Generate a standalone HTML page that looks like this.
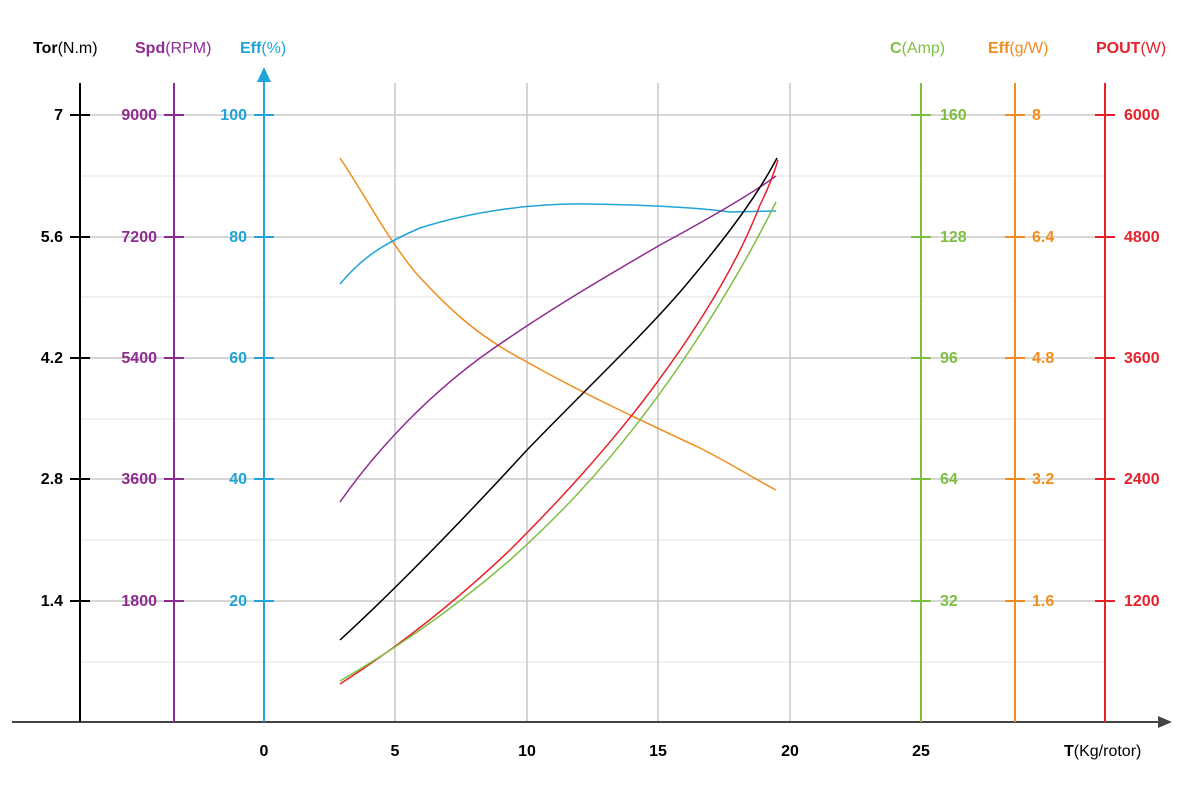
<!DOCTYPE html>
<html><head><meta charset="utf-8"><style>
body{margin:0;background:#fff;}
svg{display:block;font-family:"Liberation Sans",sans-serif;}
.t{font-size:16px;font-weight:bold;}
.h{font-size:16px;}
</style></head><body>
<svg width="1200" height="800" viewBox="0 0 1200 800">
<g stroke="#ececec" stroke-width="1.5">
<line x1="80" y1="176" x2="1105" y2="176"/><line x1="80" y1="297" x2="1105" y2="297"/>
<line x1="80" y1="419" x2="1105" y2="419"/><line x1="80" y1="540" x2="1105" y2="540"/>
<line x1="80" y1="662" x2="1105" y2="662"/>
</g>
<g stroke="#c8c8c8" stroke-width="1.5">
<line x1="80" y1="115" x2="1105" y2="115"/><line x1="80" y1="237" x2="1105" y2="237"/>
<line x1="80" y1="358" x2="1105" y2="358"/><line x1="80" y1="479" x2="1105" y2="479"/>
<line x1="80" y1="601" x2="1105" y2="601"/>
<line x1="395" y1="83" x2="395" y2="722"/><line x1="527" y1="83" x2="527" y2="722"/>
<line x1="658" y1="83" x2="658" y2="722"/><line x1="790" y1="83" x2="790" y2="722"/>
</g>
<line x1="12" y1="722" x2="1162" y2="722" stroke="#444" stroke-width="2"/>
<polygon points="1172,722 1158,716 1158,728" fill="#444"/>
<g stroke-width="2">
<line x1="80" y1="83" x2="80" y2="722" stroke="#000"/>
<line x1="174" y1="83" x2="174" y2="722" stroke="#8e2b91"/>
<line x1="264" y1="80" x2="264" y2="722" stroke="#1fa4d8"/>
<line x1="921" y1="83" x2="921" y2="722" stroke="#7dbf41"/>
<line x1="1015" y1="83" x2="1015" y2="722" stroke="#f28c1c"/>
<line x1="1105" y1="83" x2="1105" y2="722" stroke="#e8202a"/>
</g>
<polygon points="264,67 257,82 271,82" fill="#1fa4d8"/>
<g stroke-width="2">
<g stroke="#000"><line x1="70" y1="115" x2="90" y2="115"/><line x1="70" y1="237" x2="90" y2="237"/><line x1="70" y1="358" x2="90" y2="358"/><line x1="70" y1="479" x2="90" y2="479"/><line x1="70" y1="601" x2="90" y2="601"/></g>
<g stroke="#8e2b91"><line x1="164" y1="115" x2="184" y2="115"/><line x1="164" y1="237" x2="184" y2="237"/><line x1="164" y1="358" x2="184" y2="358"/><line x1="164" y1="479" x2="184" y2="479"/><line x1="164" y1="601" x2="184" y2="601"/></g>
<g stroke="#1fa4d8"><line x1="254" y1="115" x2="274" y2="115"/><line x1="254" y1="237" x2="274" y2="237"/><line x1="254" y1="358" x2="274" y2="358"/><line x1="254" y1="479" x2="274" y2="479"/><line x1="254" y1="601" x2="274" y2="601"/></g>
<g stroke="#7dbf41"><line x1="911" y1="115" x2="931" y2="115"/><line x1="911" y1="237" x2="931" y2="237"/><line x1="911" y1="358" x2="931" y2="358"/><line x1="911" y1="479" x2="931" y2="479"/><line x1="911" y1="601" x2="931" y2="601"/></g>
<g stroke="#f28c1c"><line x1="1005" y1="115" x2="1025" y2="115"/><line x1="1005" y1="237" x2="1025" y2="237"/><line x1="1005" y1="358" x2="1025" y2="358"/><line x1="1005" y1="479" x2="1025" y2="479"/><line x1="1005" y1="601" x2="1025" y2="601"/></g>
<g stroke="#e8202a"><line x1="1095" y1="115" x2="1115" y2="115"/><line x1="1095" y1="237" x2="1115" y2="237"/><line x1="1095" y1="358" x2="1115" y2="358"/><line x1="1095" y1="479" x2="1115" y2="479"/><line x1="1095" y1="601" x2="1115" y2="601"/></g>
</g>
<g class="t" text-anchor="end">
<g fill="#000"><text x="63" y="120">7</text><text x="63" y="242">5.6</text><text x="63" y="363">4.2</text><text x="63" y="484">2.8</text><text x="63" y="606">1.4</text></g>
<g fill="#8e2b91"><text x="157" y="120">9000</text><text x="157" y="242">7200</text><text x="157" y="363">5400</text><text x="157" y="484">3600</text><text x="157" y="606">1800</text></g>
<g fill="#1fa4d8"><text x="247" y="120">100</text><text x="247" y="242">80</text><text x="247" y="363">60</text><text x="247" y="484">40</text><text x="247" y="606">20</text></g>
</g>
<g class="t">
<g fill="#7dbf41"><text x="940" y="120">160</text><text x="940" y="242">128</text><text x="940" y="363">96</text><text x="940" y="484">64</text><text x="940" y="606">32</text></g>
<g fill="#f28c1c"><text x="1032" y="120">8</text><text x="1032" y="242">6.4</text><text x="1032" y="363">4.8</text><text x="1032" y="484">3.2</text><text x="1032" y="606">1.6</text></g>
<g fill="#e8202a"><text x="1124" y="120">6000</text><text x="1124" y="242">4800</text><text x="1124" y="363">3600</text><text x="1124" y="484">2400</text><text x="1124" y="606">1200</text></g>
</g>
<g class="t" fill="#000" text-anchor="middle" font-size="16">
<text x="264" y="756">0</text><text x="395" y="756">5</text><text x="527" y="756">10</text><text x="658" y="756">15</text><text x="790" y="756">20</text><text x="921" y="756">25</text>
</g>
<text x="1064" y="756" class="h"><tspan font-weight="bold">T</tspan>(Kg/rotor)</text>
<text x="33" y="53" class="h" fill="#000"><tspan font-weight="bold">Tor</tspan>(N.m)</text>
<text x="135" y="53" class="h" fill="#8e2b91"><tspan font-weight="bold">Spd</tspan>(RPM)</text>
<text x="240" y="53" class="h" fill="#1fa4d8"><tspan font-weight="bold">Eff</tspan>(%)</text>
<text x="890" y="53" class="h" fill="#7dbf41"><tspan font-weight="bold">C</tspan>(Amp)</text>
<text x="988" y="53" class="h" fill="#f28c1c"><tspan font-weight="bold">Eff</tspan>(g/W)</text>
<text x="1096" y="53" class="h" fill="#e8202a"><tspan font-weight="bold">POUT</tspan>(W)</text>
<g fill="none" stroke-width="1.5">
<path stroke="#f28c1c" d="M340,158 C365,195 385,235 415,272 C445,305 475,335 527,362 C580,392 640,420 700,448 C735,466 760,482 776,490"/>
<path stroke="#1fa4d8" d="M340,284 C360,260 380,245 420,228 C470,212 530,203 590,204 C650,205 700,208 730,212 L776,211"/>
<path stroke="#8e2b91" d="M340,502 C380,445 430,395 480,358 C540,315 600,280 660,245 C710,218 750,195 776,176"/>
<path stroke="#000" d="M340,640 C400,585 470,512 527,450 C590,385 640,338 680,292 C720,245 755,200 777,158"/>
<path stroke="#e8202a" d="M340,684 C390,652 450,607 510,550 C560,500 600,456 640,405 C690,340 735,270 760,205 C770,185 775,170 778,160"/>
<path stroke="#7dbf41" d="M340,681 C390,652 450,612 510,560 C560,515 600,472 640,420 C690,355 740,275 776,202"/>
</g>
</svg>
</body></html>
